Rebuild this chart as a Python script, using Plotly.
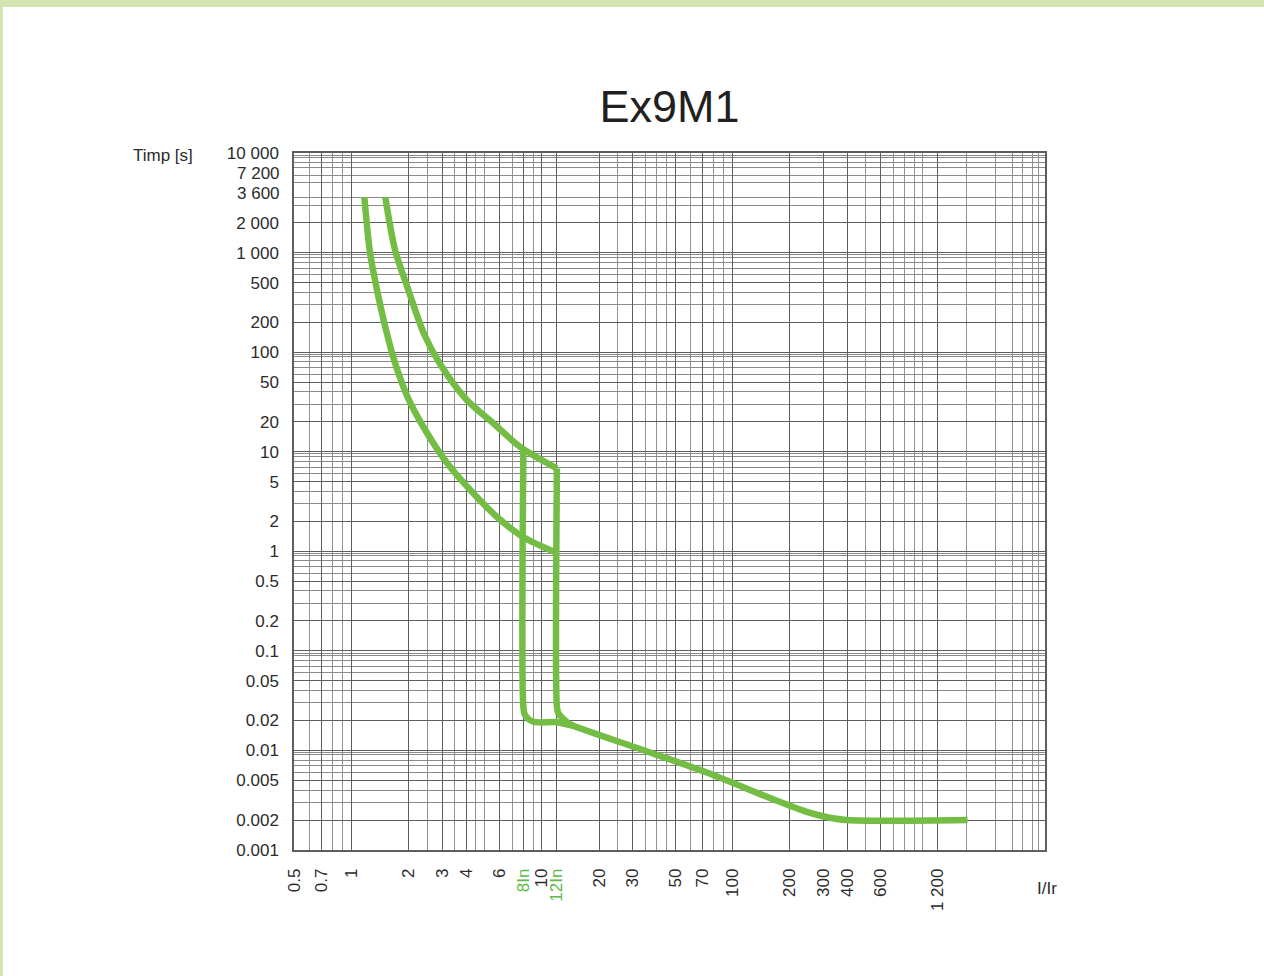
import math
import plotly.graph_objects as go

# ---------------- data ----------------
# upper (max) thermal curve, ends at 12In
UPPER_X = [1.508, 1.696, 1.992, 2.408, 2.922, 4.035, 5.566, 7.69, 12]
UPPER_Y = [3600, 1061, 421, 152, 76.0, 33.1, 19.3, 11.2, 6.8]

# lower (min) thermal curve, ends at 12In
LOWER_X = [1.17, 1.254, 1.364, 1.521, 1.696, 1.984, 2.497, 3.18, 4.354, 5.82, 7.97, 12]
LOWER_Y = [3600, 990, 421, 167, 77.8, 34.6, 15.4, 7.70, 3.85, 2.21, 1.39, 0.96]

# 8In magnetic threshold branch
IN8_X = [8, 8, 8.16, 9.02, 12.0, 14.6]
IN8_Y = [10.7, 0.0275, 0.0226, 0.0194, 0.0192, 0.0177]

# 12In magnetic threshold branch + instantaneous tail
TAIL_X = [12, 12, 12.2, 13.8, 14.6, 32.8, 73.4, 164, 246, 307, 399, 1716]
TAIL_Y = [6.8, 0.0275, 0.0236, 0.0187, 0.0177, 0.01033, 0.0060, 0.00323, 0.00242,
          0.00216, 0.002, 0.002]

# axis ticks
X_TICKS = [0.5, 0.7, 1, 2, 3, 4, 6, 8, 10, 12, 20, 30, 50, 70, 100, 200, 300, 400, 600, 1200]
X_LABELS = ["0.5", "0.7", "1", "2", "3", "4", "6", "8In", "10", "12In", "20", "30", "50",
            "70", "100", "200", "300", "400", "600", "1 200"]
X_GRID_MINOR = [0.6, 0.8, 0.9, 2.5, 3.5, 4.5, 5, 7, 9, 25, 35, 40, 45, 60, 80, 90,
                500, 700, 800, 900, 1000, 1700, 2400, 2950, 3350, 3750, 4050]

Y_TICKS = [10000, 2000, 1000, 500, 200, 100, 50, 20, 10, 5, 2, 1,
           0.5, 0.2, 0.1, 0.05, 0.02, 0.01, 0.005, 0.002, 0.001]
Y_LABELS = ["10 000", "2 000", "1 000", "500", "200", "100", "50", "20",
            "10", "5", "2", "1", "0.5", "0.2", "0.1", "0.05", "0.02", "0.01", "0.005",
            "0.002", "0.001"]
# crowded labels near the top, set slightly apart as in the reference
Y_EXTRA_TICKS = [7200, 3600]
Y_EXTRA_LABELS = ["7 200", "3 600"]
Y_EXTRA_SHIFT = [-6, 4]

Y_GRID_TOP = [9500, 9000, 8000, 6000, 5000, 3000]
Y_GRID_MULT = [9.5, 9, 8, 7, 6, 4, 3]
Y_GRID_DECADES = [0.001, 0.01, 0.1, 1, 10, 100]

TITLE = "Ex9M1"
Y_TITLE = "Timp [s]"
X_TITLE = "I/Ir"

# ---------------- style ----------------
GREEN = "#74bd44"
LABEL_GREEN = "#5cbb4a"
FONT = "Liberation Sans, Arial, sans-serif"
TXT = "#2b2b2b"
FS = 17

y_minor = Y_GRID_TOP + [d * m for d in Y_GRID_DECADES for m in Y_GRID_MULT]

x_text = []
for t in X_LABELS:
    if "In" in t:
        x_text.append('<span style="color:%s">%s</span>' % (LABEL_GREEN, t))
    else:
        x_text.append(t)

fig = go.Figure()
line = dict(color=GREEN, width=6.5, shape="spline", smoothing=0.8)
for xs, ys in [(UPPER_X, UPPER_Y), (LOWER_X, LOWER_Y), (IN8_X, IN8_Y), (TAIL_X, TAIL_Y)]:
    fig.add_trace(go.Scatter(x=xs, y=ys, mode="lines", line=line, hoverinfo="skip"))

# plot area geometry (pixels)
W, H = 1264, 976
L, R, T, B = 294, 1045, 153, 850
pw, ph = R - L, B - T

x_lo = math.log10(0.5)
x_hi = x_lo + pw / 190.5

fig.update_xaxes(
    type="log", range=[x_lo, x_hi],
    tickmode="array", tickvals=X_TICKS, ticktext=x_text, tickangle=-90,
    tickfont=dict(family=FONT, size=FS, color=TXT), ticks="", ticklabelstandoff=10,
    showgrid=True, gridcolor="#5e5e5e", gridwidth=1,
    minor=dict(tickmode="array", tickvals=X_GRID_MINOR, showgrid=True,
               gridcolor="#939393", gridwidth=1, ticks=""),
    showline=True, linecolor="#5e5e5e", linewidth=1.5, mirror=True, zeroline=False,
)
fig.update_yaxes(
    type="log", range=[-3, 4],
    tickmode="array", tickvals=Y_TICKS, ticktext=Y_LABELS,
    tickfont=dict(family=FONT, size=FS, color=TXT), ticks="", ticklabelstandoff=10,
    showgrid=True, gridcolor="#5e5e5e", gridwidth=1,
    minor=dict(tickmode="array", tickvals=y_minor + Y_EXTRA_TICKS, showgrid=True,
               gridcolor="#8a8a8a", gridwidth=1, ticks=""),
    showline=True, linecolor="#5e5e5e", linewidth=1.5, mirror=True, zeroline=False,
)


def px_x(p):
    return (p - L) / pw


def px_y(p):
    return (B - p) / ph


frame = "#d3e4b1"
shapes = [
    dict(type="rect", xref="paper", yref="paper", x0=px_x(0), x1=px_x(W), y0=px_y(0), y1=px_y(7),
         fillcolor=frame, line=dict(width=0), layer="above"),
    dict(type="rect", xref="paper", yref="paper", x0=px_x(0), x1=px_x(3), y0=px_y(0), y1=px_y(H),
         fillcolor=frame, line=dict(width=0), layer="above"),
]

annotations = [
    dict(text=Y_TITLE, xref="paper", yref="paper", x=px_x(131), y=px_y(155), xanchor="left",
         yanchor="middle", showarrow=False, font=dict(family=FONT, size=FS, color=TXT)),
    dict(text=X_TITLE, xref="paper", yref="paper", x=px_x(1047), y=px_y(888), xanchor="center",
         yanchor="middle", showarrow=False, font=dict(family=FONT, size=FS, color=TXT)),
]
for v, t, s in zip(Y_EXTRA_TICKS, Y_EXTRA_LABELS, Y_EXTRA_SHIFT):
    annotations.append(dict(text=t, xref="paper", yref="y", x=px_x(281.5), y=math.log10(v),
                            xanchor="right", yanchor="middle", yshift=s, showarrow=False,
                            font=dict(family=FONT, size=FS, color=TXT)))

fig.update_layout(
    width=W, height=H,
    margin=dict(l=L, r=W - R, t=T, b=H - B, pad=0),
    paper_bgcolor="white", plot_bgcolor="white", showlegend=False,
    title=dict(text=TITLE, x=(L + R) / 2 / W, xanchor="center", xref="container",
               y=1 - 106 / H, yanchor="middle", yref="container",
               font=dict(family=FONT, size=45, color="#231f20")),
    shapes=shapes, annotations=annotations,
)

fig.write_html("out.html", config={"displayModeBar": False},
               post_script="document.body.style.margin='0';document.body.style.overflow='hidden';")
